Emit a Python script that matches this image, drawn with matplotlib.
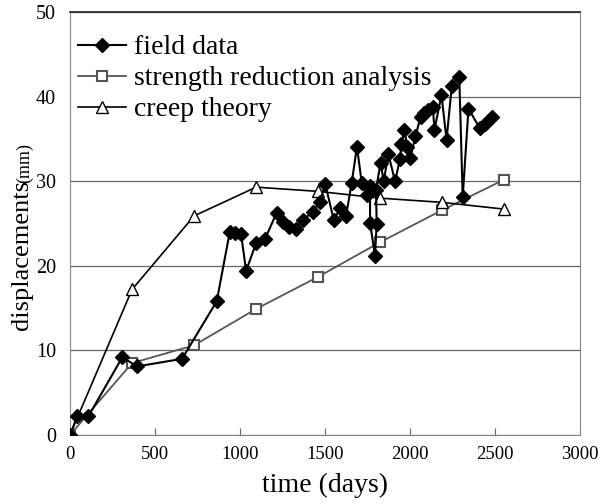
# displacement vs time: field data, strength reduction analysis and creep theory
import matplotlib
matplotlib.use("Agg")
import matplotlib.pyplot as plt

# field data (days, mm)
field_days = [0, 43, 108, 308, 394, 659, 863, 940, 971, 1006, 1036, 1095, 1148,
              1216, 1255, 1290, 1328, 1369, 1430, 1471, 1501, 1552, 1589, 1624,
              1657, 1688, 1716, 1745, 1765, 1765, 1794, 1804, 1800, 1827, 1845,
              1873, 1912, 1941, 1950, 1967, 1985, 2001, 2032, 2062, 2085, 2103,
              2134, 2144, 2185, 2215, 2246, 2290, 2310, 2344, 2409, 2440, 2481]
field_mm = [0, 2.2, 2.2, 9.2, 8.1, 9.0, 15.8, 24.0, 23.9, 23.8, 19.4, 22.7, 23.2,
            26.3, 25.2, 24.6, 24.4, 25.4, 26.4, 27.6, 29.7, 25.4, 26.8, 25.9,
            29.8, 34.1, 29.8, 28.4, 29.4, 25.1, 21.2, 24.9, 29.0, 32.2, 30.0,
            33.2, 30.0, 32.6, 34.4, 36.1, 34.0, 32.7, 35.3, 37.6, 38.1, 38.4,
            38.8, 36.1, 40.2, 34.9, 41.3, 42.3, 28.1, 38.6, 36.3, 36.8, 37.6]

# strength reduction analysis, one value per year
srm_days = [0, 365, 730, 1095, 1460, 1825, 2190, 2555]
srm_mm = [0, 8.5, 10.6, 14.9, 18.7, 22.8, 26.6, 30.2]

# creep theory
creep_days = [0, 365, 730, 1095, 1460, 1825, 2190, 2555]
creep_mm = [0, 17.2, 25.9, 29.3, 28.8, 28.0, 27.5, 26.7]

plt.rcParams["font.family"] = ["Liberation Serif", "DejaVu Serif"]

fig = plt.figure(figsize=(6.06, 5.04), dpi=100)
ax = fig.add_axes([0.1155, 0.137, 0.8416, 0.839])

ax.plot(field_days, field_mm, color="black", lw=1.5, marker="D", ms=7.5,
        mfc="black", mec="black", label="field data", zorder=4)
ax.plot(srm_days, srm_mm, color="#555555", lw=1.3, marker="s", ms=7.5,
        mfc="white", mec="#555555", mew=1.5, label="strength reduction analysis",
        zorder=3)
ax.plot(creep_days, creep_mm, color="black", lw=1.2, marker="^", ms=9,
        mfc="white", mec="black", mew=1.0, label="creep theory", zorder=3)

ax.set_xlim(0, 3000)
ax.set_ylim(0, 50)
ax.set_xticks(range(0, 3001, 500))
ax.set_yticks(range(0, 51, 10))
ax.yaxis.grid(True, color="#666666", lw=0.9)
ax.set_axisbelow(True)

ax.tick_params(axis="x", direction="in", length=5, width=0.8, color="#666666",
               labelsize=13.5, pad=8)
ax.tick_params(axis="y", length=0, labelsize=14.5, pad=10)

for side in ["left", "right", "bottom"]:
    ax.spines[side].set_color("#888888")
ax.spines["top"].set_color("#222222")
ax.spines["top"].set_linewidth(1.2)

ax.set_xlabel("time (days)", fontsize=20, labelpad=7)
fig.text(0.037, 0.494, "displacements", rotation=90, ha="center", va="center",
         fontsize=19)
fig.text(0.040, 0.636, "(mm)", rotation=90, ha="center", va="bottom", fontsize=13)

leg = ax.legend(loc="upper left", bbox_to_anchor=(0.0, 0.966), fontsize=20,
                frameon=True, facecolor="white", edgecolor="none", framealpha=1,
                handlelength=1.7, handletextpad=0.3, labelspacing=0.2,
                borderpad=0.3, borderaxespad=0)
leg.set_zorder(2)

fig.savefig("out.png", dpi=100)
